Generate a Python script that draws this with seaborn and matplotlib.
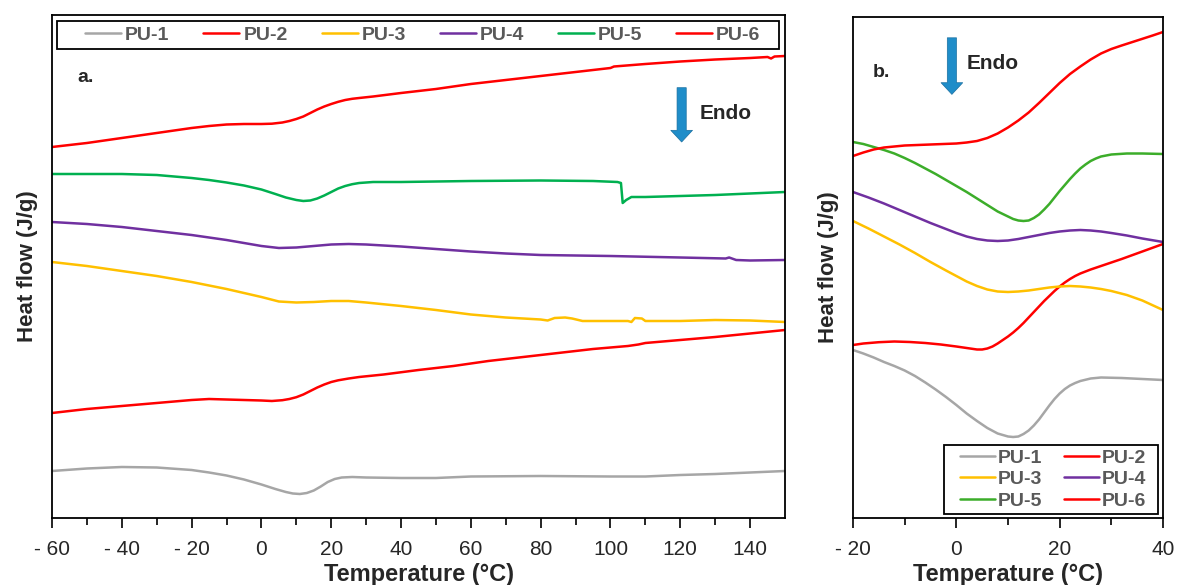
import numpy as np
import pandas as pd
import matplotlib
matplotlib.use("Agg")
import matplotlib.pyplot as plt
from matplotlib.patches import Rectangle
import seaborn as sns

sns.set_style("white")
plt.rcParams["font.family"] = ["Liberation Sans", "DejaVu Sans"]
NARROW = ["Liberation Sans Narrow", "Liberation Sans", "DejaVu Sans"]

series_names = ["PU-1", "PU-2", "PU-3", "PU-4", "PU-5", "PU-6"]

# ---------------- Panel a: -60 .. 150 °C ----------------
a_pu6_T = [-60, -50, -40, -30, -20, -15, -10, -5, 0, 3, 6, 8, 10, 12, 14, 16, 18, 20, 22, 24, 26, 28, 32, 40, 50, 60, 70, 80, 90, 100, 101, 110, 120, 130, 140, 145, 146, 147, 150]
a_pu6_v = [3.71, 3.75, 3.80, 3.85, 3.90, 3.92, 3.935, 3.94, 3.94, 3.943, 3.955, 3.97, 3.99, 4.015, 4.05, 4.085, 4.115, 4.14, 4.162, 4.18, 4.192, 4.20, 4.215, 4.25, 4.29, 4.34, 4.38, 4.42, 4.46, 4.50, 4.515, 4.54, 4.565, 4.585, 4.60, 4.61, 4.595, 4.615, 4.62]

a_pu5_T = [-60, -50, -40, -30, -20, -15, -10, -5, 0, 4, 7, 10, 12, 14, 16, 18, 20, 22, 24, 26, 28, 32, 40, 60, 80, 95, 102, 103, 103.5, 104.5, 106, 110, 120, 130, 140, 150]
a_pu5_v = [3.44, 3.44, 3.44, 3.43, 3.40, 3.38, 3.355, 3.325, 3.285, 3.24, 3.205, 3.18, 3.17, 3.175, 3.195, 3.225, 3.26, 3.295, 3.32, 3.338, 3.35, 3.36, 3.36, 3.37, 3.375, 3.37, 3.36, 3.35, 3.15, 3.18, 3.21, 3.21, 3.22, 3.23, 3.245, 3.26]

a_pu4_T = [-60, -50, -40, -30, -20, -10, -5, 0, 5, 10, 15, 20, 25, 30, 40, 50, 60, 70, 80, 100, 120, 133, 134, 136, 140, 150]
a_pu4_v = [2.96, 2.94, 2.91, 2.87, 2.83, 2.78, 2.75, 2.72, 2.70, 2.705, 2.72, 2.735, 2.74, 2.735, 2.715, 2.69, 2.665, 2.645, 2.63, 2.62, 2.605, 2.595, 2.605, 2.58, 2.575, 2.58]

a_pu3_T = [-60, -50, -40, -30, -20, -10, -5, 0, 5, 10, 15, 20, 25, 30, 40, 50, 60, 70, 80, 82, 84, 87, 89, 92, 100, 105, 106, 107, 109, 110, 120, 130, 140, 150]
a_pu3_v = [2.56, 2.52, 2.47, 2.42, 2.36, 2.29, 2.25, 2.21, 2.165, 2.155, 2.16, 2.17, 2.17, 2.155, 2.12, 2.08, 2.035, 2.005, 1.985, 1.975, 2.00, 2.005, 1.995, 1.97, 1.97, 1.97, 1.96, 2.00, 1.995, 1.97, 1.97, 1.98, 1.975, 1.96]

a_pu2_T = [-60, -50, -40, -30, -20, -15, -10, -5, 0, 3, 6, 8, 10, 12, 14, 16, 18, 20, 22, 25, 28, 35, 45, 55, 65, 75, 85, 95, 105, 108, 110, 120, 130, 140, 150]
a_pu2_v = [1.05, 1.09, 1.12, 1.15, 1.18, 1.19, 1.185, 1.18, 1.175, 1.17, 1.178, 1.19, 1.208, 1.235, 1.27, 1.305, 1.335, 1.36, 1.377, 1.395, 1.41, 1.435, 1.48, 1.52, 1.57, 1.61, 1.65, 1.69, 1.72, 1.735, 1.75, 1.78, 1.81, 1.845, 1.88]

a_pu1_T = [-60, -50, -40, -30, -20, -15, -10, -5, 0, 4, 7, 9, 11, 13, 15, 17, 19, 21, 23, 26, 30, 40, 50, 60, 80, 100, 110, 120, 130, 140, 150]
a_pu1_v = [0.47, 0.495, 0.51, 0.505, 0.48, 0.455, 0.425, 0.385, 0.335, 0.29, 0.26, 0.245, 0.24, 0.25, 0.275, 0.315, 0.36, 0.39, 0.405, 0.41, 0.405, 0.40, 0.40, 0.415, 0.42, 0.415, 0.415, 0.43, 0.44, 0.455, 0.47]

# ---------------- Panel b: -20 .. 40 °C ----------------
b_pu6_T = [-20, -18, -16, -14, -12, -10, -5, 0, 2, 4, 6, 8, 10, 12, 14, 16, 18, 20, 22, 24, 26, 28, 30, 32, 35, 38, 40]
b_pu6_v = [3.62, 3.655, 3.685, 3.705, 3.715, 3.725, 3.735, 3.745, 3.755, 3.77, 3.80, 3.845, 3.905, 3.975, 4.055, 4.15, 4.25, 4.35, 4.44, 4.515, 4.585, 4.645, 4.69, 4.725, 4.775, 4.825, 4.86]

b_pu5_T = [-20, -18, -16, -14, -12, -10, -8, -6, -4, -2, 0, 2, 4, 6, 8, 10, 11, 12, 13, 14, 15, 16, 17, 18, 19, 20, 21, 22, 23, 24, 25, 26, 27, 28, 30, 33, 36, 40]
b_pu5_v = [3.76, 3.74, 3.71, 3.68, 3.645, 3.60, 3.55, 3.495, 3.44, 3.38, 3.32, 3.26, 3.195, 3.13, 3.065, 3.015, 2.99, 2.975, 2.97, 2.975, 3.00, 3.035, 3.085, 3.14, 3.205, 3.27, 3.33, 3.39, 3.445, 3.495, 3.535, 3.57, 3.595, 3.615, 3.635, 3.645, 3.645, 3.64]

b_pu4_T = [-20, -17, -14, -11, -8, -5, -2, 0, 2, 4, 6, 8, 10, 12, 14, 16, 18, 20, 22, 24, 26, 28, 30, 33, 36, 40]
b_pu4_v = [3.26, 3.205, 3.145, 3.08, 3.015, 2.95, 2.89, 2.85, 2.815, 2.79, 2.775, 2.77, 2.775, 2.79, 2.81, 2.83, 2.85, 2.865, 2.875, 2.88, 2.875, 2.865, 2.85, 2.825, 2.795, 2.76]

b_pu3_T = [-20, -17, -14, -11, -8, -5, -2, 0, 2, 4, 6, 8, 10, 12, 14, 16, 18, 20, 22, 24, 26, 28, 30, 33, 36, 40]
b_pu3_v = [2.97, 2.895, 2.815, 2.735, 2.65, 2.56, 2.475, 2.42, 2.365, 2.32, 2.285, 2.265, 2.26, 2.265, 2.275, 2.29, 2.305, 2.315, 2.32, 2.315, 2.305, 2.29, 2.27, 2.23, 2.175, 2.08]

b_pu2_T = [-20, -18, -15, -12, -9, -6, -3, 0, 2, 4, 5, 6, 7, 8, 9, 10, 11, 12, 13, 14, 15, 16, 17, 18, 19, 20, 21, 22, 23, 24, 26, 28, 32, 36, 40]
b_pu2_v = [1.73, 1.745, 1.758, 1.765, 1.76, 1.75, 1.735, 1.715, 1.70, 1.685, 1.685, 1.695, 1.715, 1.745, 1.78, 1.815, 1.855, 1.90, 1.95, 2.005, 2.06, 2.115, 2.17, 2.22, 2.27, 2.315, 2.355, 2.39, 2.42, 2.445, 2.485, 2.52, 2.59, 2.665, 2.74]

b_pu1_T = [-20, -18, -16, -14, -12, -10, -8, -6, -4, -2, 0, 2, 4, 6, 8, 10, 11, 12, 13, 14, 15, 16, 17, 18, 19, 20, 21, 22, 23, 24, 26, 28, 32, 36, 40]
b_pu1_v = [1.68, 1.645, 1.605, 1.56, 1.52, 1.475, 1.42, 1.355, 1.285, 1.21, 1.13, 1.045, 0.97, 0.90, 0.845, 0.815, 0.81, 0.815, 0.84, 0.875, 0.925, 0.985, 1.055, 1.125, 1.19, 1.245, 1.29, 1.325, 1.35, 1.37, 1.395, 1.405, 1.40, 1.39, 1.38]

a_xticks = [-60, -40, -20, 0, 20, 40, 60, 80, 100, 120, 140]
a_xticklabels = ["- 60", "- 40", "- 20", "0", "20", "40", "60", "80", "100", "120", "140"]
b_xticks = [-20, 0, 20, 40]
b_xticklabels = ["- 20", "0", "20", "40"]

colors_a = {"PU-1": "#A6A6A6", "PU-2": "#FF0000", "PU-3": "#FFC000",
            "PU-4": "#7030A0", "PU-5": "#00B050", "PU-6": "#FF0000"}
colors_b = {"PU-1": "#A6A6A6", "PU-2": "#FF0000", "PU-3": "#FFC000",
            "PU-4": "#7030A0", "PU-5": "#3CAD2A", "PU-6": "#FF0000"}

panel_a = {"PU-1": (a_pu1_T, a_pu1_v), "PU-2": (a_pu2_T, a_pu2_v), "PU-3": (a_pu3_T, a_pu3_v),
           "PU-4": (a_pu4_T, a_pu4_v), "PU-5": (a_pu5_T, a_pu5_v), "PU-6": (a_pu6_T, a_pu6_v)}
panel_b = {"PU-1": (b_pu1_T, b_pu1_v), "PU-2": (b_pu2_T, b_pu2_v), "PU-3": (b_pu3_T, b_pu3_v),
           "PU-4": (b_pu4_T, b_pu4_v), "PU-5": (b_pu5_T, b_pu5_v), "PU-6": (b_pu6_T, b_pu6_v)}

W, H = 1177, 585
fig = plt.figure(figsize=(W / 100, H / 100), dpi=100)
axa = fig.add_axes([52 / W, 1 - 518 / H, 733 / W, 503 / H])
axb = fig.add_axes([853 / W, 1 - 518 / H, 310 / W, 501 / H])

def draw(ax, data, colors):
    for name in series_names:
        T, v = data[name]
        df = pd.DataFrame({"T": T, "v": v})
        sns.lineplot(data=df, x="T", y="v", ax=ax, color=colors[name], lw=1.8,
                     label=name, estimator=None, sort=False, legend=False)

draw(axa, panel_a, colors_a)
draw(axb, panel_b, colors_b)

arrow_col = "#1F8DC9"
for ax, xlim, ylim, ticks, labels, fam in [
        (axa, (-60, 150), (0, 5.03), a_xticks, a_xticklabels, NARROW),
        (axb, (-20, 40), (0, 5.01), b_xticks, b_xticklabels, ["Liberation Sans", "DejaVu Sans"])]:
    ax.set_xlim(*xlim)
    ax.set_ylim(*ylim)
    ax.set_yticks([])
    ax.set_xticks(ticks)
    ax.set_xticklabels(labels, family=fam, fontsize=15)
    step = ticks[1] - ticks[0]
    ax.set_xticks(np.arange(xlim[0] + step / 2, xlim[1], step), minor=True)
    ax.tick_params(axis="x", which="major", direction="out", length=7, width=1.2,
                   color="black", pad=9, bottom=True)
    ax.tick_params(axis="x", which="minor", direction="out", length=5, width=1.2,
                   color="black", bottom=True)
    for s in ax.spines.values():
        s.set_color("black")
        s.set_linewidth(1.3)
    ax.set_xlabel("Temperature (°C)", family=fam, fontsize=17, fontweight="bold", labelpad=3)
    ax.set_ylabel("Heat flow (J/g)", fontsize=16, fontweight="bold", labelpad=10)

# panel a decorations
axa.text(0.035, 0.875, "a.", transform=axa.transAxes, fontsize=14, fontweight="bold",
         va="center", ha="left")
axa.annotate("", xy=(0.859, 0.742), xytext=(0.859, 0.861), xycoords="axes fraction",
             arrowprops=dict(arrowstyle="simple,head_length=0.7,head_width=1.3,tail_width=0.55",
                             mutation_scale=12, color=arrow_col, ec="#1A6FA0", lw=0.5))
axa.text(0.884, 0.805, "Endo", transform=axa.transAxes, fontsize=15, fontweight="bold",
         va="center", ha="left")

axb.text(0.065, 0.89, "b.", transform=axb.transAxes, fontsize=14, fontweight="bold",
         va="center", ha="left")
axb.annotate("", xy=(0.319, 0.84), xytext=(0.319, 0.964), xycoords="axes fraction",
             arrowprops=dict(arrowstyle="simple,head_length=0.7,head_width=1.3,tail_width=0.55",
                             mutation_scale=12, color=arrow_col, ec="#1A6FA0", lw=0.5))
axb.text(0.368, 0.908, "Endo", transform=axb.transAxes, fontsize=15, fontweight="bold",
         va="center", ha="left")

# legends (content centred inside a square-cornered box, as in the original)
h, l = axa.get_legend_handles_labels()
lega = axa.legend(h, l, ncol=6, loc="center", bbox_to_anchor=(0.506, 0.960),
                  frameon=False, borderaxespad=0, handlelength=1.85, handletextpad=0.2,
                  columnspacing=1.75, borderpad=0.2,
                  prop={"family": NARROW, "weight": "bold", "size": 14})
for t in lega.get_texts():
    t.set_color("#595959")
axa.add_patch(Rectangle((0.0068, 0.932), 0.985, 0.056, transform=axa.transAxes,
                        fill=True, facecolor="white", edgecolor="black", lw=1.3, zorder=4))
lega.set_zorder(5)

h, l = axb.get_legend_handles_labels()
order = [0, 2, 4, 1, 3, 5]
legb = axb.legend([h[i] for i in order], [l[i] for i in order], ncol=2, loc="center",
                  bbox_to_anchor=(0.645, 0.077), frameon=False, borderaxespad=0,
                  handlelength=1.8, handletextpad=0.15, borderpad=0.1, labelspacing=0.2,
                  columnspacing=1.1, prop={"weight": "bold", "size": 14})
for t in legb.get_texts():
    t.set_color("#595959")
axb.add_patch(Rectangle((0.294, 0.008), 0.69, 0.138, transform=axb.transAxes,
                        fill=True, facecolor="white", edgecolor="black", lw=1.3, zorder=4))
legb.set_zorder(5)

fig.savefig("out.png", dpi=100)
